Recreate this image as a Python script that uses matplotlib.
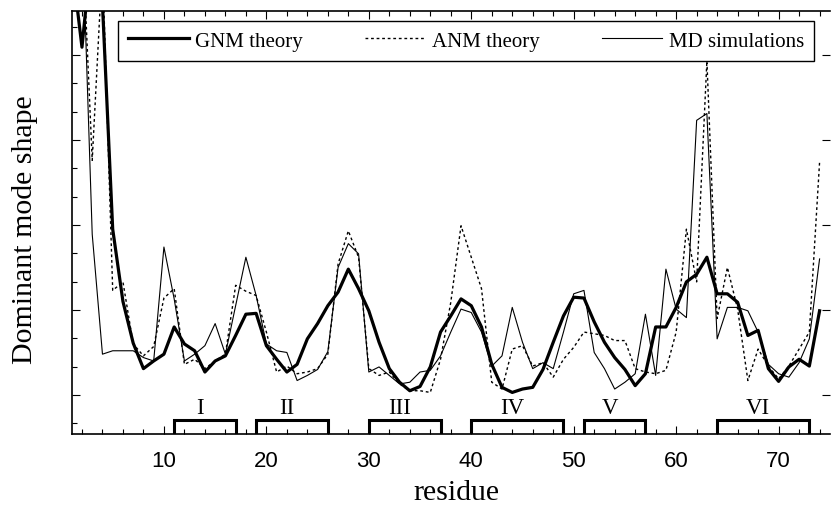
"""
Dominant mode shape vs residue: GNM / ANM theory against MD simulations.
Secondary structure elements I-VI marked along the bottom axis.
"""

import numpy as np
import matplotlib
matplotlib.use("Agg")
import matplotlib.pyplot as plt
from matplotlib.ticker import MultipleLocator

residues = np.arange(1, 75)

gnm = [6.10, 5.09, 6.30, 5.60, 2.95, 2.10, 1.61, 1.31, 1.40, 1.48,
       1.80, 1.60, 1.52, 1.27, 1.40, 1.46, 1.70, 1.95, 1.96, 1.58,
       1.42, 1.27, 1.36, 1.66, 1.84, 2.05, 2.21, 2.48, 2.25, 1.99,
       1.62, 1.31, 1.15, 1.05, 1.10, 1.33, 1.74, 1.93, 2.13, 2.05,
       1.80, 1.36, 1.09, 1.03, 1.07, 1.09, 1.30, 1.62, 1.93, 2.15,
       2.14, 1.86, 1.62, 1.44, 1.30, 1.11, 1.25, 1.80, 1.80, 2.03,
       2.33, 2.42, 2.62, 2.19, 2.19, 2.09, 1.70, 1.76, 1.31, 1.16,
       1.33, 1.42, 1.34, 1.99]

anm = [6.00, 6.50, 3.76, 6.09, 2.23, 2.33, 1.60, 1.46, 1.57, 2.14,
       2.25, 1.36, 1.42, 1.31, 1.40, 1.48, 2.29, 2.22, 2.17, 1.74,
       1.27, 1.34, 1.25, 1.27, 1.31, 1.48, 2.54, 2.93, 2.62, 1.31,
       1.23, 1.27, 1.13, 1.05, 1.05, 1.03, 1.42, 2.09, 2.99, 2.62,
       2.25, 1.15, 1.07, 1.54, 1.58, 1.34, 1.38, 1.21, 1.42, 1.56,
       1.74, 1.72, 1.70, 1.64, 1.64, 1.31, 1.27, 1.25, 1.29, 1.74,
       2.95, 2.33, 4.93, 1.90, 2.50, 2.01, 1.17, 1.54, 1.34, 1.19,
       1.34, 1.54, 1.74, 3.74]

md = [6.00, 6.58, 2.89, 1.48, 1.52, 1.52, 1.52, 1.44, 1.40, 2.74,
      2.13, 1.40, 1.48, 1.58, 1.84, 1.48, 2.05, 2.62, 2.17, 1.60,
      1.52, 1.50, 1.17, 1.23, 1.30, 1.51, 2.50, 2.78, 2.66, 1.27,
      1.33, 1.23, 1.13, 1.15, 1.27, 1.29, 1.46, 1.74, 2.01, 1.97,
      1.74, 1.34, 1.46, 2.03, 1.62, 1.31, 1.38, 1.31, 1.74, 2.19,
      2.23, 1.50, 1.31, 1.07, 1.15, 1.25, 1.95, 1.23, 2.48, 2.01,
      1.91, 4.23, 4.31, 1.66, 2.03, 2.03, 1.99, 1.74, 1.36, 1.25,
      1.21, 1.38, 1.66, 2.60]

# secondary structure elements (first / last residue)
ss_labels = ["I", "II", "III", "IV", "V", "VI"]
ss_start = [11, 19, 30, 40, 51, 64]
ss_end = [17, 26, 37, 49, 57, 73]

x_ticks = [10, 20, 30, 40, 50, 60, 70]

SERIF = "Liberation Serif"
SANS = "Liberation Sans"


def plot_modes(fname="out.png"):
    fig = plt.figure(figsize=(8.34, 5.06), dpi=100)
    ax = fig.add_axes([0.086, 0.1413, 0.909, 0.834])

    ymin, ymax = 0.547, 5.51
    box_top = 0.709

    ax.plot(residues, gnm, color="black", lw=2.3, label="GNM theory")
    ax.plot(residues, anm, color="black", lw=1.0, linestyle=(0, (2, 2)),
            label="ANM theory")
    ax.plot(residues, md, color="black", lw=0.8, label="MD simulations")

    # secondary structure brackets
    for lab, s, e in zip(ss_labels, ss_start, ss_end):
        ax.plot([s, s, e, e], [ymin, box_top, box_top, ymin],
                color="black", lw=2.2, solid_joinstyle="miter")
        ax.text((s + e) / 2 - 0.5, 0.85, lab, ha="center", va="center",
                fontsize=16.5, family=SERIF)

    ax.set_xlim(1, 75)
    ax.set_ylim(ymin, ymax)

    ax.set_xticks(x_ticks)
    ax.set_xticklabels([str(t) for t in x_ticks], family=SANS, fontsize=16)
    ax.xaxis.set_minor_locator(MultipleLocator(2))
    ax.yaxis.set_major_locator(MultipleLocator(1))
    ax.yaxis.set_minor_locator(MultipleLocator(1 / 3))

    ax.tick_params(axis="x", which="both", direction="in", top=True,
                   bottom=True, width=0.8, pad=12)
    ax.tick_params(axis="y", which="both", direction="in", left=True,
                   labelleft=False, width=0.8)
    ax.tick_params(axis="y", which="major", right=True)
    ax.tick_params(which="major", length=6)
    ax.tick_params(which="minor", length=3.5)

    for side in ["left", "top", "bottom"]:
        ax.spines[side].set_linewidth(1.2)
    ax.spines["right"].set_visible(False)

    ax.set_xlabel("residue", family=SERIF, fontsize=21.5)
    ax.set_ylabel("Dominant mode shape", family=SERIF, fontsize=21.5)
    ax.xaxis.set_label_coords(0.507, -0.107)
    ax.yaxis.set_label_coords(-0.044, 0.485)

    leg = ax.legend(loc="upper left", bbox_to_anchor=(0.0607, 0.978),
                    borderaxespad=0, ncol=3, fancybox=False, framealpha=1,
                    edgecolor="black", handlelength=2.9, handletextpad=0.3,
                    columnspacing=3.0, borderpad=0.5,
                    prop={"family": SERIF, "size": 15})
    leg.get_frame().set_linewidth(1.0)
    leg.set_zorder(10)

    fig.savefig(fname, dpi=100)
    return fig


if __name__ == "__main__":
    plot_modes()
